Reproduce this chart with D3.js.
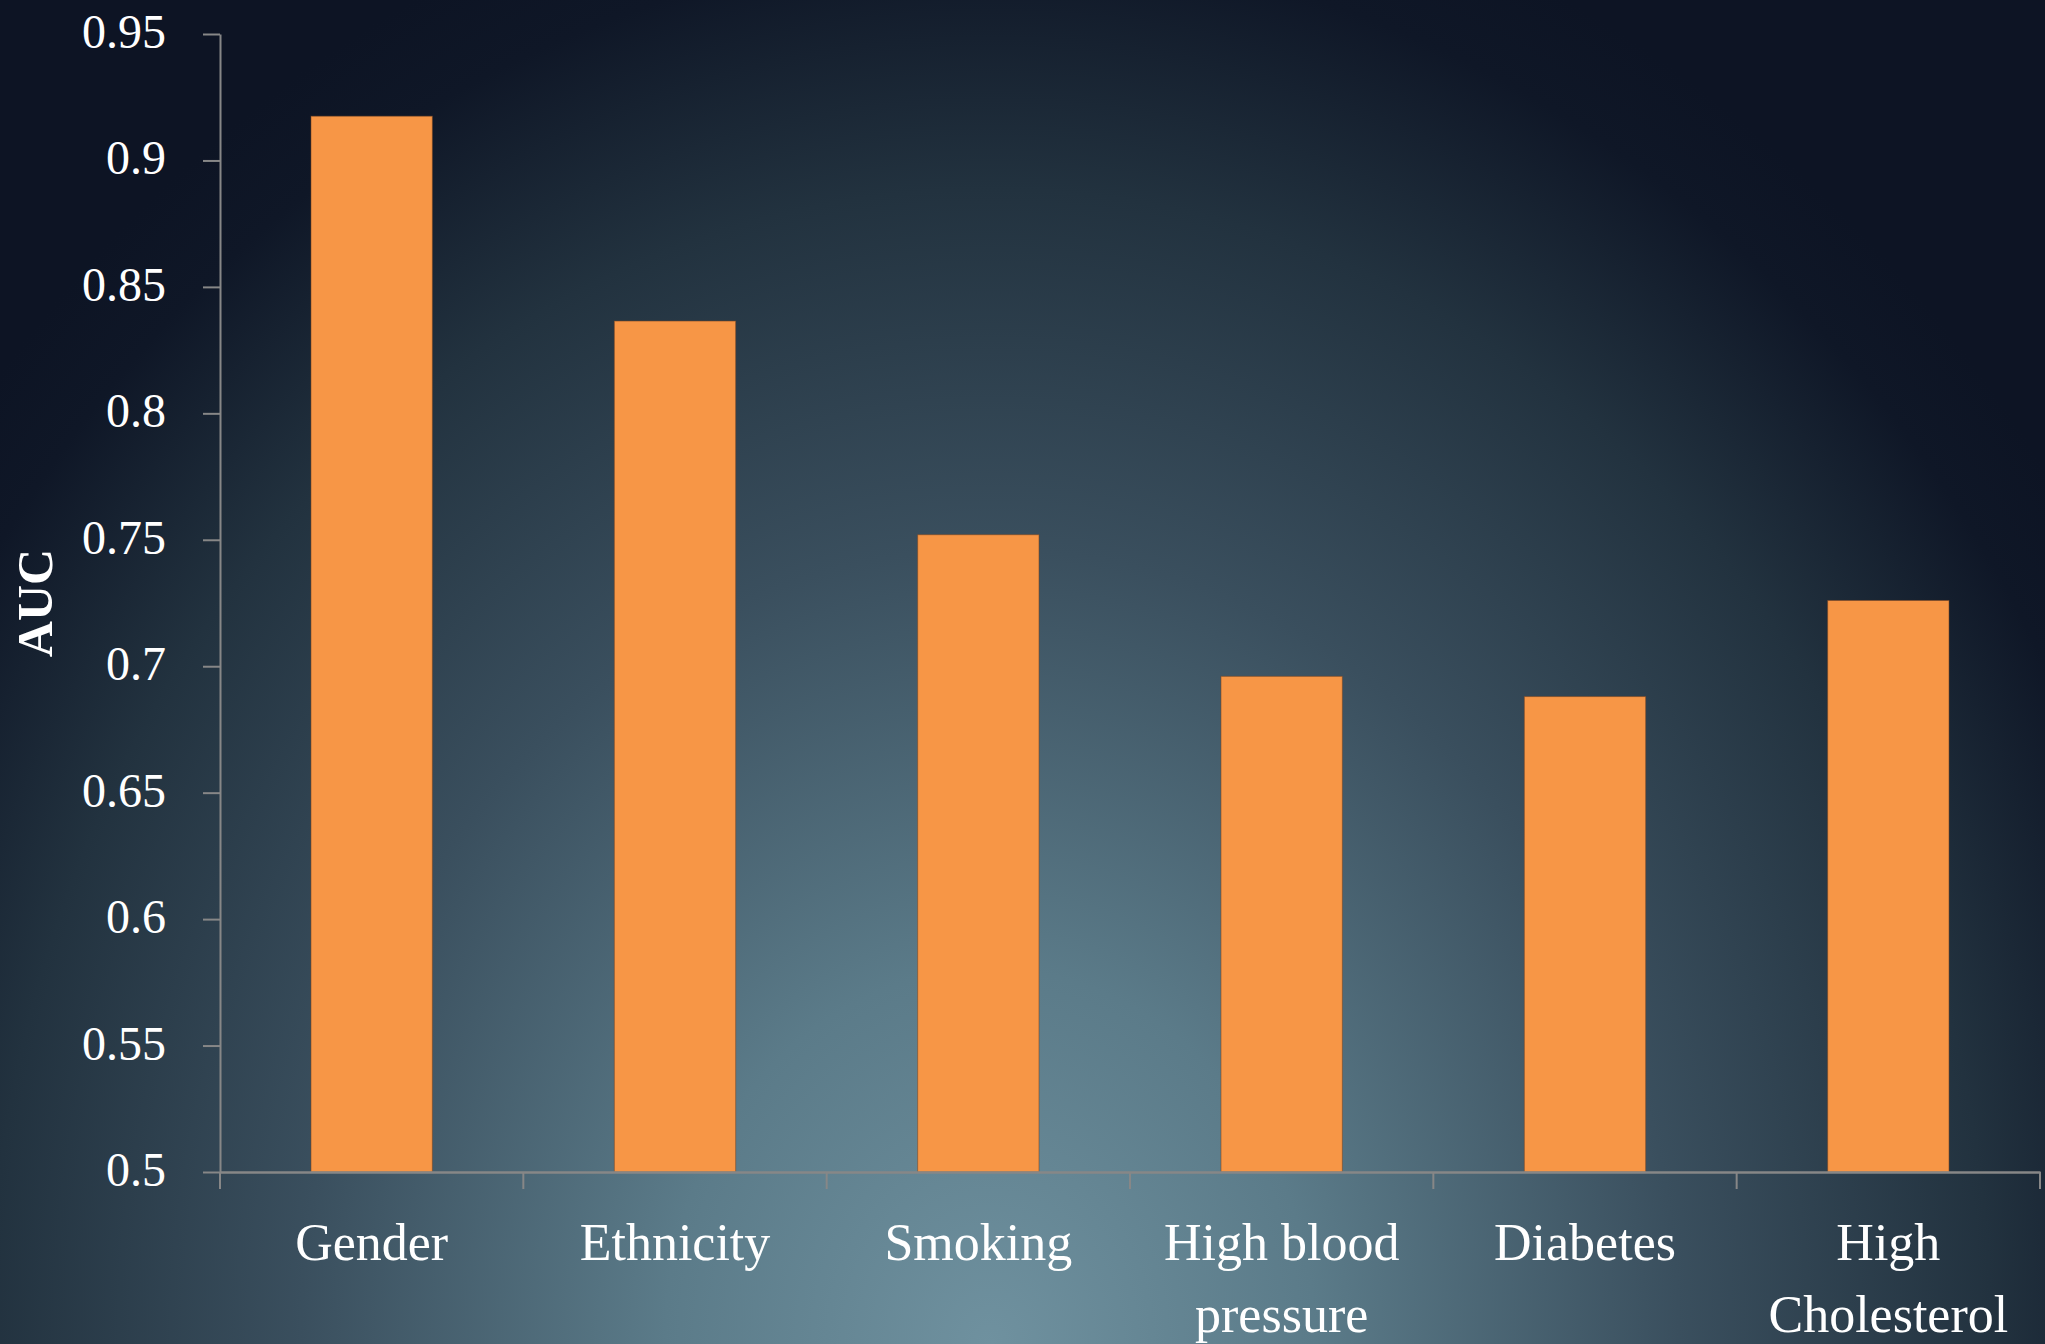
<!DOCTYPE html>
<html>
<head>
<meta charset="utf-8">
<script src="https://cdn.jsdelivr.net/npm/d3@7"></script>
<style>
  html, body { margin: 0; padding: 0; background: #0d1424; }
  svg { display: block; }
</style>
</head>
<body>
<svg id="chart" width="2045" height="1344"></svg>
<script>
// ---- data ----
const categories = ["Gender", "Ethnicity", "Smoking", "High blood pressure", "Diabetes", "High Cholesterol"];
const categoryLines = [["Gender"], ["Ethnicity"], ["Smoking"], ["High blood", "pressure"], ["Diabetes"], ["High", "Cholesterol"]];
const aucValues = [0.9175, 0.8365, 0.752, 0.696, 0.688, 0.726];
const yTicks = [0.5, 0.55, 0.6, 0.65, 0.7, 0.75, 0.8, 0.85, 0.9, 0.95];
const yTickLabels = ["0.5", "0.55", "0.6", "0.65", "0.7", "0.75", "0.8", "0.85", "0.9", "0.95"];
const yAxisTitle = "AUC";

// ---- layout ----
const W = 2045, H = 1344;
const plot = { left: 220, right: 2040, top: 34, bottom: 1172 };
const serif = "'Liberation Serif', 'DejaVu Serif', serif";

const svg = d3.select("#chart");

// background radial gradient
const defs = svg.append("defs");
const grad = defs.append("radialGradient")
  .attr("id", "bg")
  .attr("gradientUnits", "userSpaceOnUse")
  .attr("cx", 0).attr("cy", 0).attr("r", 1)
  .attr("gradientTransform", "translate(990,1344) scale(1300,1500)");
[[0, "#6f919f"], [0.25, "#5b7b89"], [0.53, "#3a4f5e"], [0.77, "#22323f"], [0.93, "#0f1727"], [1, "#0d1424"]]
  .forEach(([o, c]) => grad.append("stop").attr("offset", o).attr("stop-color", c));
svg.append("rect").attr("width", W).attr("height", H).attr("fill", "url(#bg)");

// scales
const x = d3.scaleBand().domain(categories).range([plot.left, plot.right]).padding(0);
const y = d3.scaleLinear().domain([0.5, 0.95]).range([plot.bottom, plot.top]);

// bars
const barFrac = 0.4;
svg.append("g").selectAll("rect")
  .data(categories.map((c, i) => ({ c, v: aucValues[i] })))
  .join("rect")
  .attr("x", d => x(d.c) + x.bandwidth() * (1 - barFrac) / 2)
  .attr("width", x.bandwidth() * barFrac)
  .attr("y", d => y(d.v))
  .attr("height", d => y(0.5) - y(d.v))
  .attr("fill", "#f79646")
  .attr("stroke", "rgba(120,70,35,0.55)")
  .attr("stroke-width", 1);

// y axis
const yAxis = d3.axisLeft(y).tickValues(yTicks)
  .tickFormat((d, i) => yTickLabels[i]).tickSize(17).tickSizeOuter(0).tickPadding(37);
const gy = svg.append("g").attr("transform", `translate(${plot.left},0)`).call(yAxis);
gy.select(".domain").attr("stroke", "#878787").attr("stroke-width", 2);
gy.selectAll(".tick line").attr("stroke", "#878787").attr("stroke-width", 2);
gy.selectAll(".tick text")
  .attr("fill", "#ffffff").attr("font-family", serif).attr("font-size", 48)
  .attr("dy", "0.28em");

// x axis
const gx = svg.append("g").attr("transform", `translate(0,${plot.bottom})`);
const xAxis = d3.axisBottom(x).tickSize(0).tickFormat("").tickSizeOuter(0);
gx.call(xAxis);
gx.select(".domain").attr("stroke", "#878787").attr("stroke-width", 2.5);
// category boundary ticks
const boundaries = categories.map(c => x(c)).concat([plot.right]);
gx.selectAll("line.bound").data(boundaries).join("line")
  .attr("class", "bound")
  .attr("x1", d => d).attr("x2", d => d)
  .attr("y1", 0).attr("y2", 17)
  .attr("stroke", "#878787").attr("stroke-width", 2);

// category labels
const labels = gx.selectAll("text.cat").data(categories).join("text")
  .attr("class", "cat")
  .attr("text-anchor", "middle")
  .attr("fill", "#ffffff")
  .attr("font-family", serif)
  .attr("font-size", 52)
  .attr("transform", d => `translate(${x(d) + x.bandwidth() / 2},88)`);
labels.each(function(d, i) {
  d3.select(this).selectAll("tspan").data(categoryLines[i]).join("tspan")
    .attr("x", 0).attr("y", (l, j) => j * 72).text(l => l);
});

// y axis title
svg.append("text")
  .attr("transform", `translate(52,603) rotate(-90)`)
  .attr("text-anchor", "middle")
  .attr("fill", "#ffffff")
  .attr("font-family", serif)
  .attr("font-weight", "bold")
  .attr("font-size", 50)
  .text(yAxisTitle);
</script>
</body>
</html>
